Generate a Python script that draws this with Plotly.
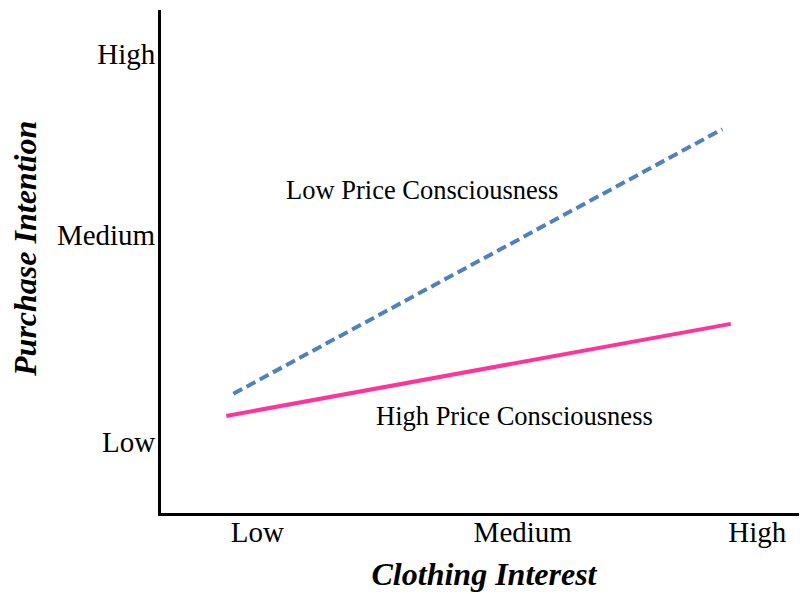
import plotly.graph_objects as go

# Axis scales (0-100 units), tick positions and labels
x_tick_vals = [14.9, 56.0, 92.3]
x_tick_text = ["Low", "Medium", "High"]
y_tick_vals = [14.1, 55.3, 91.3]
y_tick_text = ["Low", "Medium", "High"]

# Series: start / end of each simple-slope line
low_pc_x = [11.2, 86.9]
low_pc_y = [23.7, 76.3]
high_pc_x = [10.1, 88.2]
high_pc_y = [19.3, 37.6]

label_low_pos = (40.4, 64.2)
label_high_pos = (54.7, 19.3)

serif = "Liberation Serif, Times New Roman, serif"

fig = go.Figure()
fig.add_trace(go.Scatter(
    x=low_pc_x, y=low_pc_y, mode="lines", name="Low Price Consciousness",
    line=dict(color="#4F81BD", width=4, dash="10px,5px"),
))
fig.add_trace(go.Scatter(
    x=high_pc_x, y=high_pc_y, mode="lines", name="High Price Consciousness",
    line=dict(color="#FF3399", width=4),
))

fig.add_annotation(x=label_low_pos[0], y=label_low_pos[1], text="Low Price Consciousness",
                   showarrow=False, font=dict(family=serif, size=26.5, color="black"))
fig.add_annotation(x=label_high_pos[0], y=label_high_pos[1], text="High Price Consciousness",
                   showarrow=False, font=dict(family=serif, size=26.5, color="black"))

# y-axis title (placed as rotated text to match its vertical position)
fig.add_annotation(xref="paper", yref="paper", x=-0.2105, y=0.525,
                   xanchor="center", yanchor="middle", textangle=-90,
                   text="<b><i>Purchase Intention</i></b>", showarrow=False,
                   font=dict(family=serif, size=32, color="black"))

fig.update_layout(
    width=799, height=586,
    margin=dict(l=153, r=0, t=2, b=81),
    paper_bgcolor="white", plot_bgcolor="white",
    showlegend=False,
    font=dict(family=serif, color="black"),
    xaxis=dict(
        range=[0, 100], showgrid=False, zeroline=False,
        showline=True, linecolor="black", linewidth=3,
        tickmode="array", tickvals=x_tick_vals, ticktext=x_tick_text,
        tickfont=dict(family=serif, size=29, color="black"),
        ticks="", ticklabelstandoff=-9,
        title=dict(text="<b><i>Clothing Interest</i></b>",
                   font=dict(family=serif, size=32, color="black"), standoff=16),
        automargin=False,
    ),
    yaxis=dict(
        range=[0, 100], showgrid=False, zeroline=False,
        showline=True, linecolor="black", linewidth=3,
        tickmode="array", tickvals=y_tick_vals, ticktext=y_tick_text,
        tickfont=dict(family=serif, size=29, color="black"),
        ticks="", ticklabelstandoff=-3,
        automargin=False,
    ),
)

fig.write_html("out.html")
